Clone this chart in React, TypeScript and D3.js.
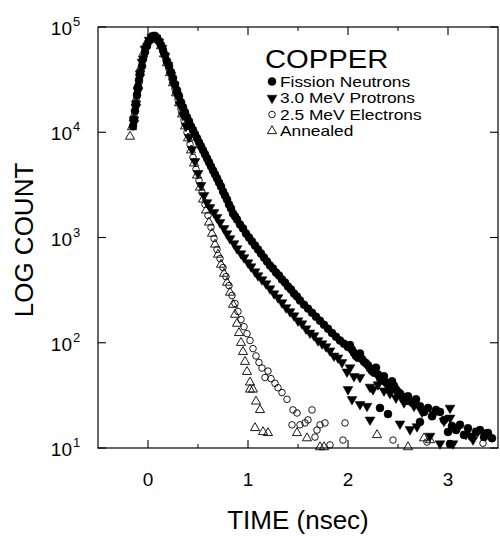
import React from 'react';
import * as d3 from 'd3';

// [time (nsec), count]
const fissionNeutrons: [number, number][] = [
  [-0.15, 11400], [-0.14, 13300], [-0.13, 15900], [-0.12, 18900], [-0.11, 22500], [-0.10, 26900],
  [-0.09, 31300], [-0.08, 36500], [-0.06, 42500], [-0.05, 49600], [-0.03, 57800], [-0.01, 65900],
  [0.01, 73600], [0.03, 78600], [0.05, 82100],
  [0.07, 82100], [0.09, 78600], [0.11, 73600], [0.13, 67400], [0.15, 60400], [0.17, 54100],
  [0.19, 47400], [0.21, 42500], [0.23, 37300], [0.25, 32700], [0.27, 28600], [0.29, 25100],
  [0.31, 22000], [0.33, 19300], [0.35, 17300], [0.37, 15500], [0.39, 13900], [0.41, 12700],
  [0.43, 11400], [0.45, 10500], [0.47, 9570], [0.49, 8770], [0.51, 8030], [0.53, 7360],
  [0.55, 6740], [0.57, 6170], [0.59, 5650], [0.61, 5180], [0.63, 4740], [0.65, 4340],
  [0.67, 3980], [0.69, 3650], [0.71, 3340], [0.73, 3060], [0.75, 2740], [0.77, 2510],
  [0.79, 2300], [0.81, 2060], [0.83, 1890], [0.85, 1690], [0.87, 1590], [0.89, 1480],
  [0.92, 1330], [0.95, 1220], [0.98, 1090], [1.01, 1000], [1.04, 916], [1.07, 839],
  [1.10, 769], [1.13, 704], [1.16, 645], [1.19, 591], [1.22, 541], [1.25, 507],
  [1.28, 464], [1.31, 435], [1.34, 398], [1.37, 373], [1.40, 342], [1.43, 320],
  [1.46, 293], [1.49, 275], [1.52, 252], [1.56, 230], [1.60, 211], [1.64, 193],
  [1.68, 177], [1.72, 162], [1.76, 148], [1.80, 136], [1.84, 124], [1.88, 114],
  [1.92, 105], [1.96, 98], [2.00, 91], [2.02, 95], [2.04, 86], [2.06, 80], [2.08, 75],
  [2.10, 72], [2.12, 79], [2.14, 70], [2.16, 66], [2.18, 64], [2.20, 61], [2.22, 57],
  [2.24, 54], [2.26, 52], [2.28, 58], [2.30, 50], [2.32, 46], [2.34, 44], [2.36, 48],
  [2.38, 42], [2.40, 40], [2.42, 38], [2.44, 43], [2.46, 39], [2.48, 36], [2.50, 34],
  [2.52, 33], [2.54, 31], [2.56, 29], [2.58, 28], [2.60, 31], [2.64, 27], [2.68, 29],
  [2.72, 25], [2.76, 22], [2.80, 24], [2.84, 20], [2.88, 23], [2.92, 22], [2.96, 18.5],
  [3.00, 14.2], [3.04, 16.2], [3.08, 14.8], [3.12, 16.6], [3.16, 13.3], [3.20, 15.4],
  [3.24, 12.7], [3.28, 14.2], [3.32, 14.8], [3.36, 12.7], [3.40, 13.9], [3.44, 12.4],
  [2.32, 24], [2.40, 21], [2.72, 17.7], [3.02, 10.9],
];

const protons3MeV: [number, number][] = [
  [-0.14, 12200], [-0.12, 17300], [-0.10, 24600], [-0.08, 33400], [-0.06, 46400],
  [-0.03, 61700], [0.01, 75200], [0.04, 80300],
  [0.08, 78600], [0.11, 72000], [0.14, 63100], [0.17, 52900], [0.20, 43400], [0.23, 34900],
  [0.26, 28000], [0.29, 22500], [0.32, 18100], [0.35, 14500], [0.38, 11400], [0.41, 8960],
  [0.44, 6890], [0.47, 5290], [0.50, 4070], [0.53, 3130], [0.56, 2510], [0.59, 2150],
  [0.62, 1930], [0.66, 1730], [0.69, 1550], [0.72, 1390], [0.76, 1220], [0.79, 1090],
  [0.82, 979], [0.86, 877], [0.89, 786], [0.93, 704], [0.96, 645], [1.00, 578],
  [1.03, 529], [1.07, 474], [1.10, 435], [1.14, 398], [1.18, 365], [1.22, 327],
  [1.26, 293], [1.30, 269], [1.34, 241], [1.38, 216], [1.42, 198], [1.46, 181],
  [1.50, 162], [1.54, 152], [1.58, 136], [1.62, 124], [1.66, 117], [1.70, 105],
  [1.74, 98], [1.78, 92], [1.82, 84], [1.86, 75], [1.90, 72], [1.94, 65],
  [1.99, 53], [2.00, 36], [2.02, 58], [2.04, 29], [2.06, 48], [2.12, 47], [2.12, 26],
  [2.19, 25], [2.22, 18.5], [2.22, 38], [2.25, 36], [2.30, 40], [2.36, 35], [2.42, 33],
  [2.48, 30], [2.52, 17], [2.56, 27], [2.62, 15], [2.66, 25], [2.69, 16], [2.74, 22],
  [2.82, 13], [2.86, 21], [2.92, 11], [2.96, 18], [3.02, 24], [3.02, 19.3], [3.05, 11],
  [3.10, 15.5], [3.18, 13.5], [3.25, 12], [3.30, 14.5], [3.37, 14],
];

const electrons25MeV: [number, number][] = [
  [-0.15, 13300], [-0.13, 18100], [-0.11, 23500], [-0.09, 29300], [-0.07, 38100],
  [-0.04, 52900], [-0.01, 67400], [0.02, 76900], [0.06, 80300],
  [0.09, 76900], [0.12, 68900], [0.15, 59000], [0.18, 48500], [0.21, 39800], [0.24, 32000],
  [0.27, 25700], [0.30, 20600], [0.33, 16600], [0.36, 13000], [0.39, 10000], [0.42, 7690],
  [0.45, 5780], [0.48, 4440], [0.51, 3490], [0.54, 2680], [0.57, 2060], [0.60, 1620],
  [0.63, 1250], [0.66, 979], [0.69, 769], [0.72, 631], [0.75, 518], [0.78, 425],
  [0.81, 349], [0.84, 281], [0.87, 236], [0.90, 198], [0.93, 166], [0.96, 142],
  [0.99, 122], [1.02, 105], [1.05, 88], [1.08, 75], [1.11, 65], [1.14, 57.5],
  [1.17, 46.7], [1.20, 53.8], [1.23, 45.6], [1.27, 41.2], [1.30, 37.4], [1.34, 33.6],
  [1.39, 29], [1.45, 23], [1.49, 21.5], [1.44, 16.6], [1.52, 16.6], [1.57, 17.3],
  [1.60, 18.5], [1.64, 23], [1.69, 14.8], [1.67, 12.7], [1.72, 16.6], [1.77, 17.3],
  [1.82, 10.7], [1.95, 11.9], [1.97, 17.3], [2.45, 11.9], [2.79, 11.4], [3.35, 11.1],
];

const annealed: [number, number][] = [
  [-0.18, 9100], [-0.16, 11200], [-0.14, 14500], [-0.12, 20600], [-0.10, 28000],
  [-0.08, 39800], [-0.05, 55300], [-0.02, 68900], [0.02, 78600], [0.07, 80300],
  [0.10, 75200], [0.13, 65900], [0.16, 55300], [0.19, 45400], [0.22, 36500], [0.25, 29300],
  [0.28, 23500], [0.31, 18900], [0.34, 14800], [0.37, 11400], [0.40, 8770], [0.43, 6740],
  [0.46, 5070], [0.49, 3890], [0.52, 2990], [0.55, 2300], [0.58, 1810], [0.61, 1390],
  [0.64, 1090], [0.67, 858], [0.70, 689], [0.73, 553], [0.76, 454], [0.79, 373],
  [0.82, 300], [0.85, 230], [0.87, 185], [0.89, 152], [0.91, 124], [0.93, 100],
  [0.95, 82], [0.97, 66], [0.99, 53], [1.02, 42], [1.02, 36], [1.05, 36], [1.08, 27.7],
  [1.12, 23], [1.07, 15.5], [1.15, 14.2], [1.20, 13.9], [1.49, 13.9], [1.59, 12.4],
  [1.72, 10.2], [1.76, 10.2], [2.29, 13.3], [2.60, 10.2], [2.76, 12.4], [2.82, 11.9],
];

const xMajorTicks = [0, 1, 2, 3];
const xMinorTicks = [0.5, 1.5, 2.5];
const yExponents = [1, 2, 3, 4, 5];
const legendTitle = 'COPPER';
const legendLabels = ['Fission Neutrons', '3.0 MeV Protrons', '2.5 MeV Electrons', 'Annealed'];
const xTitle = 'TIME (nsec)';
const yTitle = 'LOG COUNT';

const FONT = "'Liberation Sans', Arial, Helvetica, sans-serif";

export default function App() {
  const W = 500;
  const H = 537;
  const x = d3.scaleLinear().domain([-0.5, 3.5]).range([98, 498]);
  const y = d3.scaleLog().domain([10, 1e5]).range([448, 27]);
  const [x0, x1] = x.range();
  const [yb, yt] = y.range();

  const circlePath = d3.symbol().type(d3.symbolCircle).size(50)()!;
  const openCirclePath = d3.symbol().type(d3.symbolCircle).size(34)()!;
  const triPath = d3.symbol().type(d3.symbolTriangle).size(42)()!;
  const openTriPath = d3.symbol().type(d3.symbolTriangle).size(36)()!;

  const markers = [
    { data: annealed, path: openTriPath, fill: 'none', rot: 0 },
    { data: electrons25MeV, path: openCirclePath, fill: 'none', rot: 0 },
    { data: protons3MeV, path: triPath, fill: '#000', rot: 180 },
    { data: fissionNeutrons, path: circlePath, fill: '#000', rot: 0 },
  ];

  const legendMarkers = [
    { path: circlePath, fill: '#000', rot: 0 },
    { path: triPath, fill: '#000', rot: 180 },
    { path: openCirclePath, fill: 'none', rot: 0 },
    { path: openTriPath, fill: 'none', rot: 0 },
  ];

  return (
    <svg
      width={W}
      height={H}
      style={{ position: 'absolute', left: 0, top: 0, background: '#fff' }}
      fontFamily={FONT}
    >
      <rect x={0} y={0} width={W} height={H} fill="#fff" />
      {/* frame */}
      <rect x={x0} y={yt} width={x1 - x0} height={yb - yt} fill="none" stroke="#000" strokeWidth={1.2} />
      {/* x ticks */}
      {xMajorTicks.map((t) => (
        <g key={'xm' + t}>
          <line x1={x(t)} x2={x(t)} y1={yb} y2={yb - 8} stroke="#000" strokeWidth={1.1} />
          <line x1={x(t)} x2={x(t)} y1={yt} y2={yt + 8} stroke="#000" strokeWidth={1.1} />
          <text x={x(t)} y={486} textAnchor="middle" fontSize={19}>{t}</text>
        </g>
      ))}
      {xMinorTicks.map((t) => (
        <g key={'xn' + t}>
          <line x1={x(t)} x2={x(t)} y1={yb} y2={yb - 4} stroke="#000" strokeWidth={1} />
          <line x1={x(t)} x2={x(t)} y1={yt} y2={yt + 4} stroke="#000" strokeWidth={1} />
        </g>
      ))}
      {/* y ticks */}
      {yExponents.map((e) => {
        const v = Math.pow(10, e);
        const py = y(v);
        return (
          <g key={'y' + e}>
            <line x1={x0} x2={x0 + 8} y1={py} y2={py} stroke="#000" strokeWidth={1.1} />
            <line x1={x1} x2={x1 - 8} y1={py} y2={py} stroke="#000" strokeWidth={1.1} />
            <text x={72} y={py + 8} textAnchor="end" fontSize={19}>10</text>
            <text x={73} y={py - 1} textAnchor="start" fontSize={13}>{e}</text>
          </g>
        );
      })}
      {/* axis titles */}
      <text x={298} y={529} textAnchor="middle" fontSize={26}>{xTitle}</text>
      <text transform="translate(33,240) rotate(-90)" textAnchor="middle" fontSize={26}>{yTitle}</text>
      {/* data */}
      {markers.map((m, i) => (
        <g key={'s' + i}>
          {m.data.map((d, j) => (
            <path
              key={j}
              d={m.path}
              transform={`translate(${x(d[0])},${y(d[1])}) rotate(${m.rot})`}
              fill={m.fill}
              stroke="#000"
              strokeWidth={m.fill === 'none' ? 0.9 : 0.5}
            />
          ))}
        </g>
      ))}
      {/* legend */}
      <text transform="translate(265,68) scale(1.17,1)" fontSize={25}>{legendTitle}</text>
      {legendLabels.map((label, i) => {
        const by = 86.5 + i * 16.5;
        const lm = legendMarkers[i];
        return (
          <g key={'l' + i}>
            <path
              d={lm.path}
              transform={`translate(272,${by - 5}) rotate(${lm.rot})`}
              fill={lm.fill}
              stroke="#000"
              strokeWidth={lm.fill === 'none' ? 0.9 : 0.5}
            />
            <text transform={`translate(280,${by}) scale(1.24,1)`} fontSize={14}>{label}</text>
          </g>
        );
      })}
    </svg>
  );
}
